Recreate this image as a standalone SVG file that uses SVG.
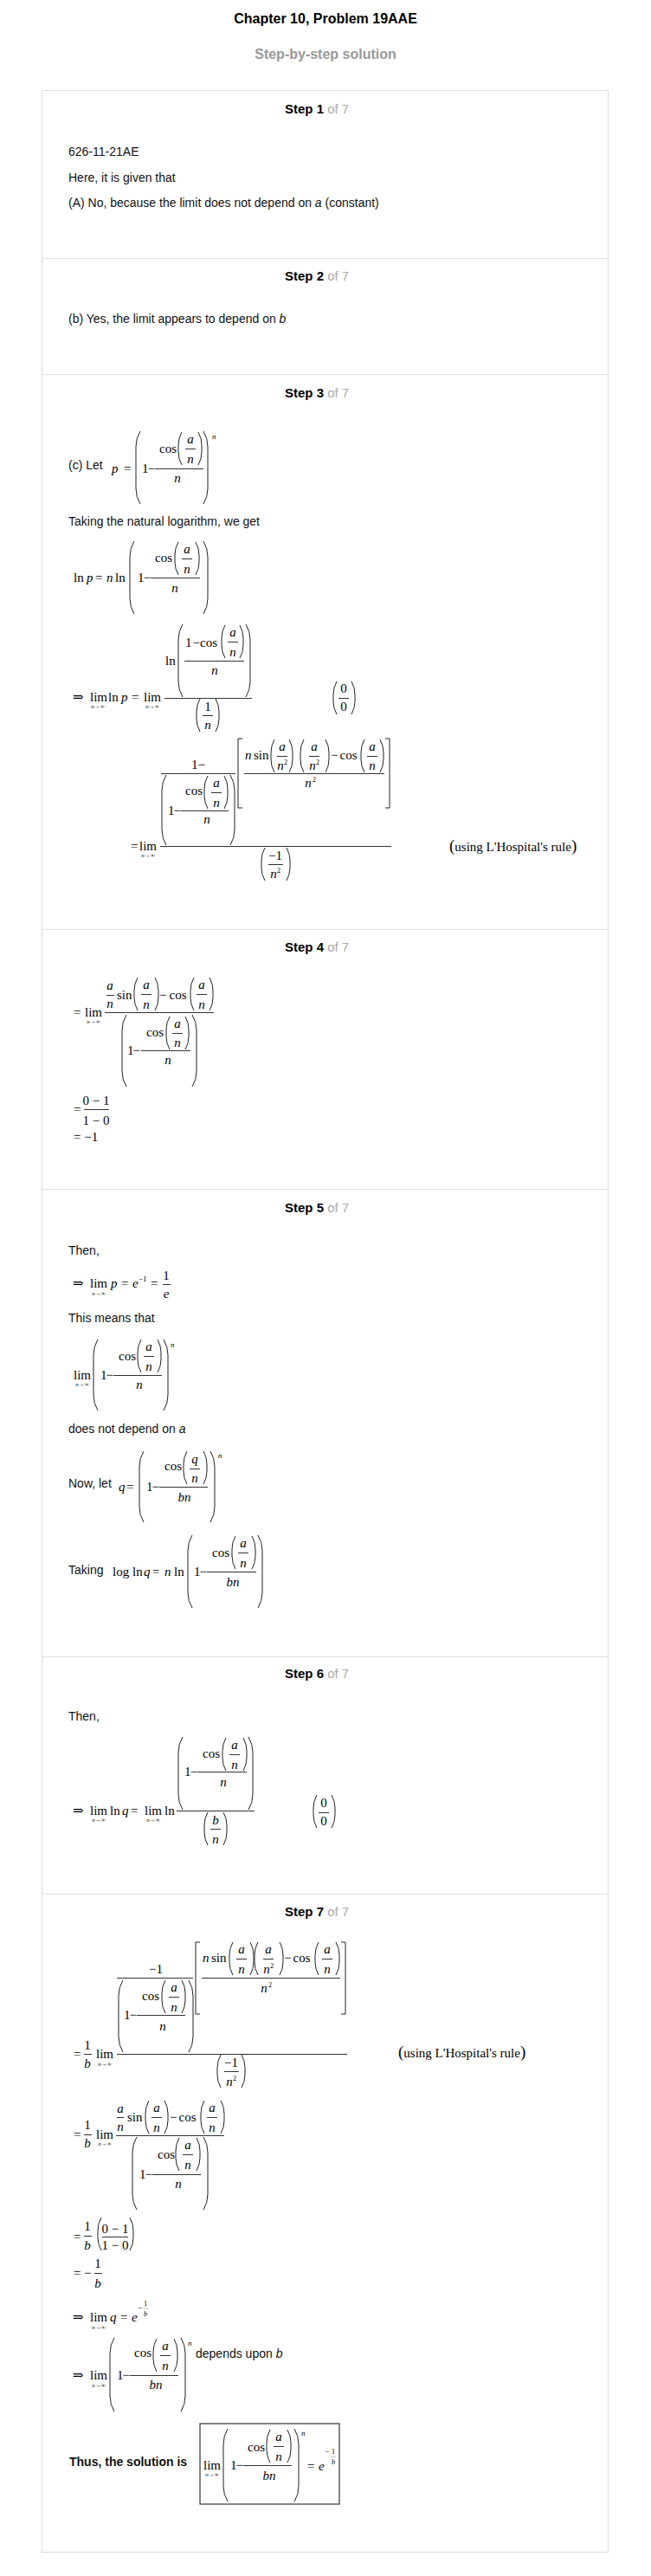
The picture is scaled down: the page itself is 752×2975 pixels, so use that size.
<svg xmlns="http://www.w3.org/2000/svg" width="752" height="2975" viewBox="0 0 752 2975">
<style>
.t{font-family:"Liberation Sans",Arial,sans-serif;font-size:14px;fill:#111}
.tb{font-weight:bold}
.m{font-family:"Liberation Serif","Times New Roman","DejaVu Serif",serif;font-size:15px;fill:#000}
.i{font-style:italic}
.c{text-anchor:middle}
.s{font-size:7px}
.u{font-size:9px}
.v{font-size:8px}
.h{font-family:"Liberation Sans",Arial,sans-serif;font-size:15px;font-weight:bold;fill:#000}
.g{fill:#aaa;font-weight:normal}
.pr{fill:none;stroke:#222;stroke-width:1}
.fb{stroke:#333;stroke-width:1}
.sep{stroke:#e0e0e0;stroke-width:1}
</style>
<defs>
<path id="sl" d="M4 0 Q0 7 0 15 V23 Q0 31 4 38" fill="none" stroke="#222" stroke-width="1"/>
<path id="sr" d="M0 0 Q4 7 4 15 V23 Q4 31 0 38" fill="none" stroke="#222" stroke-width="1"/>
</defs>
<rect width="752" height="2975" fill="#fff"/>
<g id="header">
<text x="376" y="27" font-family="Liberation Sans, Arial, sans-serif" font-size="16" font-weight="bold" text-anchor="middle" fill="#000">Chapter 10, Problem 19AAE</text>
<text x="376" y="68" font-family="Liberation Sans, Arial, sans-serif" font-size="16" font-weight="bold" text-anchor="middle" fill="#999">Step-by-step solution</text>
</g>
<g id="card">
<rect x="48.5" y="104.5" width="654" height="2843" fill="none" stroke="#ddd"/>
<line class="sep" x1="49" y1="298.5" x2="702" y2="298.5"/>
<line class="sep" x1="49" y1="432.5" x2="702" y2="432.5"/>
<line class="sep" x1="49" y1="1073.5" x2="702" y2="1073.5"/>
<line class="sep" x1="49" y1="1373.5" x2="702" y2="1373.5"/>
<line class="sep" x1="49" y1="1913.5" x2="702" y2="1913.5"/>
<line class="sep" x1="49" y1="2187.5" x2="702" y2="2187.5"/>
</g>

<g id="step1">
<text class="h" x="329" y="131">Step 1<tspan class="g"> of 7</tspan></text>
<text class="t" x="79" y="180">626-11-21AE</text>
<text class="t" x="79" y="210">Here, it is given that</text>
<text class="t" x="79" y="239">(A) No, because the limit does not depend on <tspan font-style="italic">a</tspan> (constant)</text>
</g>

<g id="step2">
<text class="h" x="329" y="324">Step 2<tspan class="g"> of 7</tspan></text>
<text class="t" x="79" y="373">(b) Yes, the limit appears to depend on <tspan font-style="italic">b</tspan></text>
</g>

<g id="step3">
<text class="h" x="329" y="459">Step 3<tspan class="g"> of 7</tspan></text>
<text class="t" x="79" y="542">(c) Let</text>
<text class="m i" x="129" y="546">p</text>
<text class="m" x="143" y="546">=</text>
<path class="pr" d="M162 498 Q157 506 157 516 V564 Q157 574 162 582"/>
<text class="m" x="164" y="546">1<tspan dx="-1">−</tspan></text>
<line class="fb" x1="179" y1="541.5" x2="235" y2="541.5"/>
<text class="m" x="184" y="523">cos</text>
<use href="#sl" x="206" y="499"/>
<text class="m i c" x="220" y="512">a</text>
<line class="fb" x1="214" y1="518.5" x2="226" y2="518.5"/>
<text class="m i c" x="220" y="535">n</text>
<use href="#sr" x="229" y="499"/>
<text class="m i c" x="205" y="557">n</text>
<path class="pr" d="M235 498 Q240 506 240 516 V564 Q240 574 235 582"/>
<text class="m i u" x="245" y="507">n</text>

<text class="t" x="79" y="607">Taking the natural logarithm, we get</text>
<text class="m" x="85" y="672">ln</text>
<text class="m i" x="100" y="672">p</text>
<text class="m" x="110" y="672">=</text>
<text class="m i" x="123" y="672">n</text>
<text class="m" x="133" y="672">ln</text>
<path class="pr" d="M155 625 Q150 633 150 643 V691 Q150 701 155 709"/>
<text class="m" x="159" y="672">1<tspan dx="-1">−</tspan></text>
<line class="fb" x1="174" y1="667.5" x2="231" y2="667.5"/>
<text class="m" x="179" y="649">cos</text>
<use href="#sl" x="202" y="626"/>
<text class="m i c" x="216" y="639">a</text>
<line class="fb" x1="210" y1="645.5" x2="222" y2="645.5"/>
<text class="m i c" x="216" y="662">n</text>
<use href="#sr" x="226" y="626"/>
<text class="m i c" x="202" y="684">n</text>
<path class="pr" d="M235 625 Q240 633 240 643 V691 Q240 701 235 709"/>

<text class="m" x="84" y="810">⇒</text>
<text class="m" x="104" y="810">lim</text>
<text class="m s c" x="113" y="818"><tspan font-style="italic">n</tspan>→∞</text>
<text class="m" x="125" y="810">ln</text>
<text class="m i" x="140" y="810">p</text>
<text class="m" x="152" y="810">=</text>
<text class="m" x="166" y="810">lim</text>
<text class="m s c" x="176" y="818"><tspan font-style="italic">n</tspan>→∞</text>
<line class="fb" x1="190" y1="806.5" x2="291" y2="806.5"/>
<text class="m" x="191" y="768">ln</text>
<path class="pr" d="M211 721 Q206 729 206 739 V787 Q206 797 211 805"/>
<text class="m" x="214" y="747">1<tspan dx="1">−</tspan>cos</text>
<use href="#sl" x="256" y="722"/>
<text class="m i c" x="269" y="735">a</text>
<line class="fb" x1="263" y1="741.5" x2="275" y2="741.5"/>
<text class="m i c" x="269" y="758">n</text>
<use href="#sr" x="277" y="722"/>
<line class="fb" x1="213" y1="763.5" x2="282" y2="763.5"/>
<text class="m i c" x="248" y="779">n</text>
<path class="pr" d="M284 721 Q289 729 289 739 V787 Q289 797 284 805"/>
<use href="#sl" x="227" y="807"/>
<text class="m c" x="240" y="821">1</text>
<line class="fb" x1="234" y1="826.5" x2="246" y2="826.5"/>
<text class="m i c" x="240" y="842">n</text>
<use href="#sr" x="249" y="807"/>
<use href="#sl" x="385" y="787"/>
<text class="m c" x="397" y="800">0</text>
<line class="fb" x1="391" y1="806.5" x2="403" y2="806.5"/>
<text class="m c" x="397" y="821">0</text>
<use href="#sr" x="406" y="787"/>

<text class="m" x="151" y="982">=</text>
<text class="m" x="161" y="982">lim</text>
<text class="m s c" x="171" y="990"><tspan font-style="italic">n</tspan>→∞</text>
<line class="fb" x1="185" y1="977.5" x2="452" y2="977.5"/>
<text class="m c" x="229" y="888">1−</text>
<line class="fb" x1="186" y1="893.5" x2="272" y2="893.5"/>
<path class="pr" d="M192 895 Q187 903 187 913 V958 Q187 968 192 976"/>
<text class="m" x="194" y="941">1<tspan dx="-1">−</tspan></text>
<line class="fb" x1="209" y1="936.5" x2="264" y2="936.5"/>
<text class="m" x="214" y="918">cos</text>
<use href="#sl" x="236" y="896"/>
<text class="m i c" x="250" y="909">a</text>
<line class="fb" x1="244" y1="915.5" x2="256" y2="915.5"/>
<text class="m i c" x="250" y="932">n</text>
<use href="#sr" x="259" y="896"/>
<text class="m i c" x="239" y="951">n</text>
<path class="pr" d="M266 895 Q271 903 271 913 V958 Q271 968 266 976"/>
<path class="pr" d="M280 853 H275 V933 H280"/>
<path class="pr" d="M445 853 H450 V933 H445"/>
<line class="fb" x1="282" y1="893.5" x2="444" y2="893.5"/>
<text class="m i" x="283" y="877">n</text>
<text class="m" x="293" y="877">sin</text>
<use href="#sl" x="313" y="854"/>
<text class="m i c" x="326" y="867">a</text>
<line class="fb" x1="320" y1="873.5" x2="332" y2="873.5"/>
<text class="m i c" x="324" y="889">n</text>
<text class="m v" x="328" y="883">2</text>
<use href="#sr" x="334" y="854"/>
<use href="#sl" x="347" y="854"/>
<text class="m i c" x="363" y="867">a</text>
<line class="fb" x1="357" y1="873.5" x2="369" y2="873.5"/>
<text class="m i c" x="361" y="889">n</text>
<text class="m v" x="365" y="883">2</text>
<use href="#sr" x="376" y="854"/>
<text class="m" x="382" y="877">−<tspan dx="2">cos</tspan></text>
<use href="#sl" x="417" y="854"/>
<text class="m i c" x="430" y="867">a</text>
<line class="fb" x1="424" y1="873.5" x2="436" y2="873.5"/>
<text class="m i c" x="430" y="889">n</text>
<use href="#sr" x="439" y="854"/>
<text class="m i c" x="356" y="909">n</text>
<text class="m v" x="361" y="903">2</text>
<use href="#sl" x="302" y="979"/>
<text class="m c" x="318" y="993">−1</text>
<line class="fb" x1="310" y1="998.5" x2="327" y2="998.5"/>
<text class="m i c" x="316" y="1014">n</text>
<text class="m v" x="320" y="1008">2</text>
<use href="#sr" x="331" y="979"/>
<text class="m" x="519" y="983"><tspan font-size="19">(</tspan>using L'Hospital's rule<tspan font-size="19">)</tspan></text>
</g>

<g id="step4">
<text class="h" x="329" y="1099">Step 4<tspan class="g"> of 7</tspan></text>
<text class="m" x="85" y="1174">=</text>
<text class="m" x="98" y="1174">lim</text>
<text class="m s c" x="108" y="1182"><tspan font-style="italic">n</tspan>→∞</text>
<line class="fb" x1="121" y1="1169.5" x2="247" y2="1169.5"/>
<text class="m i c" x="127" y="1143">a</text>
<line class="fb" x1="123" y1="1149.5" x2="132" y2="1149.5"/>
<text class="m i c" x="127" y="1164">n</text>
<text class="m" x="135" y="1154">sin</text>
<use href="#sl" x="155" y="1129"/>
<text class="m i c" x="169" y="1142">a</text>
<line class="fb" x1="163" y1="1148.5" x2="175" y2="1148.5"/>
<text class="m i c" x="169" y="1165">n</text>
<use href="#sr" x="179" y="1129"/>
<text class="m" x="184" y="1154">−<tspan dx="3">cos</tspan></text>
<use href="#sl" x="220" y="1129"/>
<text class="m i c" x="233" y="1142">a</text>
<line class="fb" x1="227" y1="1148.5" x2="239" y2="1148.5"/>
<text class="m i c" x="233" y="1165">n</text>
<use href="#sr" x="242" y="1129"/>
<path class="pr" d="M146 1172 Q141 1180 141 1190 V1237 Q141 1247 146 1255"/>
<text class="m" x="147" y="1218">1<tspan dx="-1">−</tspan></text>
<line class="fb" x1="163" y1="1213.5" x2="220" y2="1213.5"/>
<text class="m" x="169" y="1197">cos</text>
<use href="#sl" x="192" y="1174"/>
<text class="m i c" x="205" y="1187">a</text>
<line class="fb" x1="199" y1="1193.5" x2="211" y2="1193.5"/>
<text class="m i c" x="205" y="1209">n</text>
<use href="#sr" x="214" y="1174"/>
<text class="m i c" x="194" y="1229">n</text>
<path class="pr" d="M222 1172 Q227 1180 227 1190 V1237 Q227 1247 222 1255"/>
<text class="m" x="85" y="1286">=</text>
<text class="m c" x="111" y="1276">0 − 1</text>
<line class="fb" x1="97" y1="1281.5" x2="126" y2="1281.5"/>
<text class="m c" x="111" y="1299">1 − 0</text>
<text class="m" x="85" y="1318">= −1</text>
</g>

<g id="step5">
<text class="h" x="329" y="1400">Step 5<tspan class="g"> of 7</tspan></text>
<text class="t" x="79" y="1449">Then,</text>
<text class="m" x="84" y="1487">⇒</text>
<text class="m" x="104" y="1487">lim</text>
<text class="m s c" x="114" y="1496"><tspan font-style="italic">n</tspan>→∞</text>
<text class="m i" x="128" y="1487">p</text>
<text class="m" x="140" y="1487">=</text>
<text class="m i" x="153" y="1487">e</text>
<text class="m u" x="160" y="1480">−1</text>
<text class="m" x="174" y="1487">=</text>
<text class="m c" x="192" y="1478">1</text>
<line class="fb" x1="188" y1="1483.5" x2="197" y2="1483.5"/>
<text class="m i c" x="192" y="1499">e</text>
<text class="t" x="79" y="1527">This means that</text>
<text class="m" x="85" y="1593">lim</text>
<text class="m s c" x="95" y="1601"><tspan font-style="italic">n</tspan>→∞</text>
<path class="pr" d="M113 1547 Q108 1555 108 1565 V1611 Q108 1621 113 1629"/>
<text class="m" x="116" y="1593">1<tspan dx="-1">−</tspan></text>
<line class="fb" x1="131" y1="1588.5" x2="187" y2="1588.5"/>
<text class="m" x="137" y="1571">cos</text>
<use href="#sl" x="159" y="1547"/>
<text class="m i c" x="172" y="1560">a</text>
<line class="fb" x1="166" y1="1566.5" x2="178" y2="1566.5"/>
<text class="m i c" x="172" y="1583">n</text>
<use href="#sr" x="182" y="1547"/>
<text class="m i c" x="161" y="1604">n</text>
<path class="pr" d="M189 1547 Q194 1555 194 1565 V1611 Q194 1621 189 1629"/>
<text class="m i u" x="197" y="1556">n</text>
<text class="t" x="79" y="1655">does not depend on <tspan font-style="italic">a</tspan></text>
<text class="t" x="79" y="1718">Now, let</text>
<text class="m i" x="137" y="1722">q</text>
<text class="m" x="146" y="1722">=</text>
<path class="pr" d="M166 1676 Q161 1684 161 1694 V1740 Q161 1750 166 1758"/>
<text class="m" x="169" y="1722">1<tspan dx="-1">−</tspan></text>
<line class="fb" x1="184" y1="1717.5" x2="240" y2="1717.5"/>
<text class="m" x="190" y="1698">cos</text>
<use href="#sl" x="212" y="1676"/>
<text class="m i c" x="225" y="1690">q</text>
<line class="fb" x1="219" y1="1696.5" x2="231" y2="1696.5"/>
<text class="m i c" x="225" y="1712">n</text>
<use href="#sr" x="235" y="1676"/>
<text class="m i c" x="213" y="1734">bn</text>
<path class="pr" d="M243 1676 Q248 1684 248 1694 V1740 Q248 1750 243 1758"/>
<text class="m i u" x="252" y="1684">n</text>
<text class="t" x="79" y="1818">Taking</text>
<text class="m" x="130" y="1820">log</text>
<text class="m" x="153" y="1820">ln</text>
<text class="m i" x="166" y="1820">q</text>
<text class="m" x="176" y="1820">=</text>
<text class="m i" x="190" y="1820">n</text>
<text class="m" x="201" y="1820">ln</text>
<path class="pr" d="M222 1773 Q217 1781 217 1791 V1839 Q217 1849 222 1857"/>
<text class="m" x="224" y="1820">1<tspan dx="-1">−</tspan></text>
<line class="fb" x1="239" y1="1815.5" x2="296" y2="1815.5"/>
<text class="m" x="245" y="1798">cos</text>
<use href="#sl" x="268" y="1774"/>
<text class="m i c" x="281" y="1787">a</text>
<line class="fb" x1="275" y1="1793.5" x2="287" y2="1793.5"/>
<text class="m i c" x="281" y="1810">n</text>
<use href="#sr" x="291" y="1774"/>
<text class="m i c" x="269" y="1832">bn</text>
<path class="pr" d="M298 1773 Q303 1781 303 1791 V1839 Q303 1849 298 1857"/>
</g>

<g id="step6">
<text class="h" x="329" y="1938">Step 6<tspan class="g"> of 7</tspan></text>
<text class="t" x="79" y="1987">Then,</text>
<text class="m" x="84" y="2096">⇒</text>
<text class="m" x="104" y="2096">lim</text>
<text class="m s c" x="114" y="2104"><tspan font-style="italic">n</tspan>→∞</text>
<text class="m" x="127" y="2096">ln</text>
<text class="m i" x="141" y="2096">q</text>
<text class="m" x="151" y="2096">=</text>
<text class="m" x="167" y="2096">lim</text>
<text class="m s c" x="177" y="2104"><tspan font-style="italic">n</tspan>→∞</text>
<text class="m" x="190" y="2096">ln</text>
<line class="fb" x1="204" y1="2091.5" x2="294" y2="2091.5"/>
<path class="pr" d="M211 2006 Q206 2014 206 2024 V2072 Q206 2082 211 2090"/>
<text class="m" x="213" y="2051">1<tspan dx="-1">−</tspan></text>
<line class="fb" x1="228" y1="2046.5" x2="285" y2="2046.5"/>
<text class="m" x="234" y="2030">cos</text>
<use href="#sl" x="257" y="2007"/>
<text class="m i c" x="271" y="2020">a</text>
<line class="fb" x1="265" y1="2026.5" x2="277" y2="2026.5"/>
<text class="m i c" x="271" y="2043">n</text>
<use href="#sr" x="281" y="2007"/>
<text class="m i c" x="258" y="2063">n</text>
<path class="pr" d="M287 2006 Q292 2014 292 2024 V2072 Q292 2082 287 2090"/>
<use href="#sl" x="236" y="2093"/>
<text class="m i c" x="249" y="2107">b</text>
<line class="fb" x1="243" y1="2112.5" x2="255" y2="2112.5"/>
<text class="m i c" x="249" y="2129">n</text>
<use href="#sr" x="258" y="2093"/>
<use href="#sl" x="362" y="2073"/>
<text class="m c" x="374" y="2087">0</text>
<line class="fb" x1="368" y1="2093.5" x2="380" y2="2093.5"/>
<text class="m c" x="374" y="2108">0</text>
<use href="#sr" x="383" y="2073"/>
</g>

<g id="step7">
<text class="h" x="329" y="2213">Step 7<tspan class="g"> of 7</tspan></text>
<text class="m" x="85" y="2377">=</text>
<text class="m c" x="101" y="2367">1</text>
<line class="fb" x1="97" y1="2372.5" x2="106" y2="2372.5"/>
<text class="m i c" x="101" y="2388">b</text>
<text class="m" x="111" y="2377">lim</text>
<text class="m s c" x="121" y="2386"><tspan font-style="italic">n</tspan>→∞</text>
<line class="fb" x1="135" y1="2372.5" x2="401" y2="2372.5"/>
<text class="m c" x="180" y="2279">−1</text>
<line class="fb" x1="135" y1="2284.5" x2="223" y2="2284.5"/>
<path class="pr" d="M142 2287 Q137 2295 137 2305 V2352 Q137 2362 142 2370"/>
<text class="m" x="143" y="2332">1<tspan dx="-1">−</tspan></text>
<line class="fb" x1="158" y1="2327.5" x2="214" y2="2327.5"/>
<text class="m" x="164" y="2310">cos</text>
<use href="#sl" x="187" y="2287"/>
<text class="m i c" x="201" y="2300">a</text>
<line class="fb" x1="195" y1="2306.5" x2="207" y2="2306.5"/>
<text class="m i c" x="201" y="2323">n</text>
<use href="#sr" x="210" y="2287"/>
<text class="m i c" x="188" y="2345">n</text>
<path class="pr" d="M218 2287 Q223 2295 223 2305 V2352 Q223 2362 218 2370"/>
<path class="pr" d="M231 2243 H226 V2326 H231"/>
<path class="pr" d="M394 2243 H399 V2326 H394"/>
<line class="fb" x1="233" y1="2284.5" x2="393" y2="2284.5"/>
<text class="m i" x="234" y="2266">n</text>
<text class="m" x="244" y="2266">sin</text>
<use href="#sl" x="265" y="2243"/>
<text class="m i c" x="279" y="2256">a</text>
<line class="fb" x1="273" y1="2262.5" x2="285" y2="2262.5"/>
<text class="m i c" x="279" y="2279">n</text>
<use href="#sr" x="289" y="2243"/>
<use href="#sl" x="294" y="2243"/>
<text class="m i c" x="310" y="2256">a</text>
<line class="fb" x1="304" y1="2262.5" x2="316" y2="2262.5"/>
<text class="m i c" x="308" y="2279">n</text>
<text class="m v" x="312" y="2273">2</text>
<use href="#sr" x="323" y="2243"/>
<text class="m" x="328" y="2266">−<tspan dx="2">cos</tspan></text>
<use href="#sl" x="364" y="2243"/>
<text class="m i c" x="378" y="2256">a</text>
<line class="fb" x1="372" y1="2262.5" x2="384" y2="2262.5"/>
<text class="m i c" x="378" y="2279">n</text>
<use href="#sr" x="388" y="2243"/>
<text class="m i c" x="305" y="2301">n</text>
<text class="m v" x="310" y="2295">2</text>
<use href="#sl" x="251" y="2373"/>
<text class="m c" x="267" y="2387">−1</text>
<line class="fb" x1="259" y1="2392.5" x2="276" y2="2392.5"/>
<text class="m i c" x="265" y="2409">n</text>
<text class="m v" x="269" y="2403">2</text>
<use href="#sr" x="279" y="2373"/>
<text class="m" x="460" y="2376"><tspan font-size="19">(</tspan>using L'Hospital's rule<tspan font-size="19">)</tspan></text>

<text class="m" x="85" y="2470">=</text>
<text class="m c" x="101" y="2459">1</text>
<line class="fb" x1="97" y1="2465.5" x2="106" y2="2465.5"/>
<text class="m i c" x="101" y="2480">b</text>
<text class="m" x="111" y="2470">lim</text>
<text class="m s c" x="121" y="2478"><tspan font-style="italic">n</tspan>→∞</text>
<line class="fb" x1="134" y1="2466.5" x2="259" y2="2466.5"/>
<text class="m i c" x="139" y="2440">a</text>
<line class="fb" x1="135" y1="2445.5" x2="143" y2="2445.5"/>
<text class="m i c" x="139" y="2461">n</text>
<text class="m" x="147" y="2450">sin</text>
<use href="#sl" x="168" y="2426"/>
<text class="m i c" x="181" y="2439">a</text>
<line class="fb" x1="175" y1="2445.5" x2="187" y2="2445.5"/>
<text class="m i c" x="181" y="2462">n</text>
<use href="#sr" x="190" y="2426"/>
<text class="m" x="196" y="2450">−<tspan dx="2">cos</tspan></text>
<use href="#sl" x="232" y="2426"/>
<text class="m i c" x="245" y="2439">a</text>
<line class="fb" x1="239" y1="2445.5" x2="251" y2="2445.5"/>
<text class="m i c" x="245" y="2462">n</text>
<use href="#sr" x="255" y="2426"/>
<path class="pr" d="M158 2468 Q153 2476 153 2486 V2534 Q153 2544 158 2552"/>
<text class="m" x="161" y="2516">1<tspan dx="-1">−</tspan></text>
<line class="fb" x1="176" y1="2511.5" x2="232" y2="2511.5"/>
<text class="m" x="182" y="2493">cos</text>
<use href="#sl" x="203" y="2469"/>
<text class="m i c" x="217" y="2482">a</text>
<line class="fb" x1="211" y1="2488.5" x2="223" y2="2488.5"/>
<text class="m i c" x="217" y="2505">n</text>
<use href="#sr" x="227" y="2469"/>
<text class="m i c" x="206" y="2527">n</text>
<path class="pr" d="M235 2468 Q240 2476 240 2486 V2534 Q240 2544 235 2552"/>

<text class="m" x="85" y="2588">=</text>
<text class="m c" x="101" y="2576">1</text>
<line class="fb" x1="97" y1="2582.5" x2="106" y2="2582.5"/>
<text class="m i c" x="101" y="2598">b</text>
<use href="#sl" x="113" y="2561"/>
<text class="m c" x="133" y="2579">0 − 1</text>
<line class="fb" x1="118" y1="2583.5" x2="148" y2="2583.5"/>
<text class="m c" x="133" y="2598">1 − 0</text>
<use href="#sr" x="150" y="2561"/>

<text class="m" x="85" y="2630">=</text>
<text class="m" x="97" y="2630">−</text>
<text class="m c" x="113" y="2619">1</text>
<line class="fb" x1="109" y1="2625.5" x2="118" y2="2625.5"/>
<text class="m i c" x="113" y="2642">b</text>

<text class="m" x="84" y="2681">⇒</text>
<text class="m" x="104" y="2681">lim</text>
<text class="m s c" x="114" y="2690"><tspan font-style="italic">n</tspan>→∞</text>
<text class="m i" x="127" y="2681">q</text>
<text class="m" x="139" y="2681">=</text>
<text class="m i" x="152" y="2681">e</text>
<text class="m u" x="159" y="2668">−</text>
<text class="m v c" x="168" y="2663">1</text>
<line x1="165" y1="2666" x2="171" y2="2666" stroke="#999" stroke-width="0.6"/>
<text class="m v i c" x="168" y="2675">b</text>

<text class="m" x="84" y="2748">⇒</text>
<text class="m" x="104" y="2748">lim</text>
<text class="m s c" x="114" y="2757"><tspan font-style="italic">n</tspan>→∞</text>
<path class="pr" d="M132 2700 Q127 2708 127 2718 V2767 Q127 2777 132 2785"/>
<text class="m" x="135" y="2748">1<tspan dx="-1">−</tspan></text>
<line class="fb" x1="150" y1="2743.5" x2="206" y2="2743.5"/>
<text class="m" x="155" y="2722">cos</text>
<use href="#sl" x="177" y="2701"/>
<text class="m i c" x="191" y="2714">a</text>
<line class="fb" x1="185" y1="2720.5" x2="197" y2="2720.5"/>
<text class="m i c" x="191" y="2737">n</text>
<use href="#sr" x="201" y="2701"/>
<text class="m i c" x="180" y="2759">bn</text>
<path class="pr" d="M209 2700 Q214 2708 214 2718 V2767 Q214 2777 209 2785"/>
<text class="m i u" x="217" y="2709">n</text>
<text class="t" x="226" y="2723">depends upon <tspan font-style="italic">b</tspan></text>

<text class="t tb" x="80" y="2848">Thus, the solution is</text>
<rect x="231" y="2799" width="161" height="93" fill="none" stroke="#333" stroke-width="1.2"/>
<text class="m" x="235" y="2852">lim</text>
<text class="m s c" x="245" y="2860"><tspan font-style="italic">n</tspan>→∞</text>
<path class="pr" d="M263 2805 Q258 2813 258 2823 V2871 Q258 2881 263 2889"/>
<text class="m" x="266" y="2852">1<tspan dx="-1">−</tspan></text>
<line class="fb" x1="281" y1="2847.5" x2="337" y2="2847.5"/>
<text class="m" x="286" y="2831">cos</text>
<use href="#sl" x="308" y="2806"/>
<text class="m i c" x="322" y="2819">a</text>
<line class="fb" x1="316" y1="2825.5" x2="328" y2="2825.5"/>
<text class="m i c" x="322" y="2842">n</text>
<use href="#sr" x="332" y="2806"/>
<text class="m i c" x="311" y="2864">bn</text>
<path class="pr" d="M340 2805 Q345 2813 345 2823 V2871 Q345 2881 340 2889"/>
<text class="m i u" x="348" y="2813">n</text>
<text class="m" x="355" y="2853">=</text>
<text class="m i" x="368" y="2853">e</text>
<text class="m u" x="375" y="2834">−</text>
<text class="m v c" x="385" y="2834">1</text>
<line x1="382" y1="2837" x2="388" y2="2837" stroke="#999" stroke-width="0.6"/>
<text class="m v i c" x="385" y="2846">b</text>
</g>
</svg>
